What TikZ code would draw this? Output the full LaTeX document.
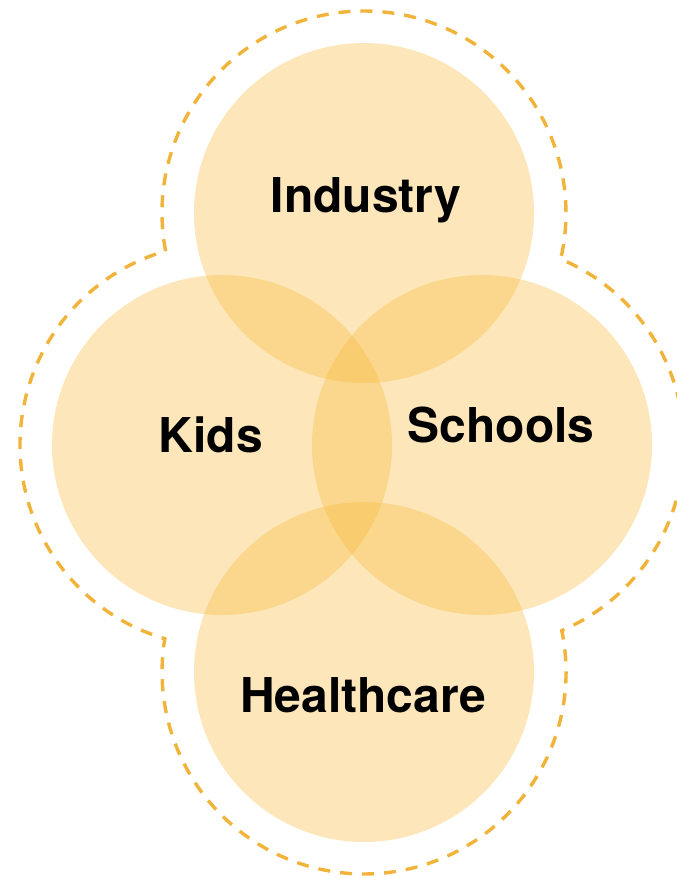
\documentclass[tikz,border=0pt]{standalone}
\usepackage{fontspec}
\setmainfont{TeX Gyre Heros}
\usepackage{tikz}
\definecolor{petalfill}{HTML}{F8B93A}
\definecolor{rimline}{HTML}{F1B33A}
\tikzstyle{petal} = [circle, minimum size=340pt, inner sep=0pt, fill=petalfill, fill opacity=0.35]
\tikzstyle{tag} = [anchor=base, inner sep=0pt, font=\fontsize{48}{58}\selectfont\bfseries, text=black]
\tikzstyle{rim} = [draw=rimline, line width=3.4pt, dash pattern=on 12pt off 10pt]

\begin{document}
\begin{tikzpicture}[x=1pt, y=-1pt]
        \clip (0,0) rectangle (677,878);
        % the four circles
        \node [petal] (industry) at (364,213) {};
        \node [petal] (kids) at (222,445) {};
        \node [petal] (schools) at (482,445) {};
        \node [petal] (healthcare) at (364,672) {};
        % labels
        \node [tag] (industrytag) at (366,212) {Industry};
        \node [tag] (kidstag) at (211,452) {Kids};
        \node [tag] (schoolstag) at (501,442) {Schools};
        \node [tag] (healthcaretag) at (363,712) {Healthcare};
        % dashed outline round all four
        \draw [rim] (165.6,251.0)
            arc[start angle=169.16, end angle=373.16, radius=202]
            arc[start angle=-67.07, end angle=66.74, radius=202]
            arc[start angle=-11.82, end angle=189.49, radius=202]
            arc[start angle=106.45, end angle=253.79, radius=202]
            -- cycle;
    \end{tikzpicture}
\end{document}
